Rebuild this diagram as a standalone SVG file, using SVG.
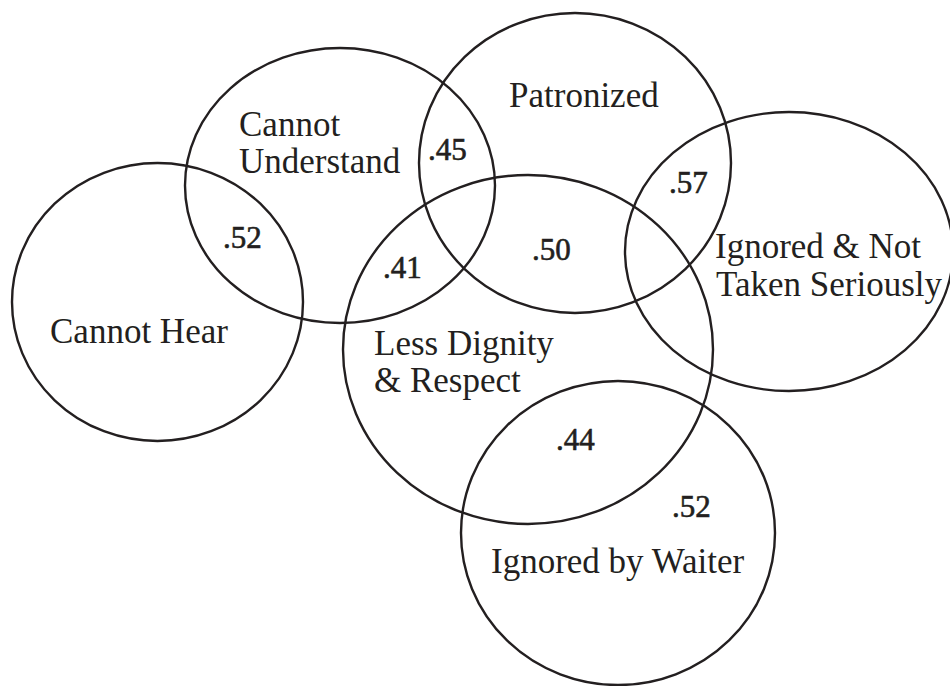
<svg xmlns="http://www.w3.org/2000/svg" width="950" height="686" viewBox="0 0 950 686">
<style>
.c{fill:none;stroke:#231f20;stroke-width:2.4}
.l{font-family:"Liberation Serif","Times New Roman",serif;font-size:35px;fill:#231f20}
.n{font-family:"Liberation Serif","Times New Roman",serif;font-size:31px;fill:#231f20;stroke:#231f20;stroke-width:0.6}
</style>
<rect width="950" height="686" fill="#fff"/>
<g id="cannot-hear"><ellipse class="c" cx="157.5" cy="302" rx="145.5" ry="139"/><text class="l" x="50" y="343">Cannot Hear</text></g>
<g id="cannot-understand"><ellipse class="c" cx="340" cy="185.5" rx="155" ry="137.5"/><text class="l" x="239" y="136">Cannot</text><text class="l" x="239" y="173">Understand</text></g>
<g id="patronized"><ellipse class="c" cx="575" cy="163" rx="156" ry="150"/><text class="l" x="509" y="107">Patronized</text></g>
<g id="ignored-not-taken-seriously"><ellipse class="c" cx="789" cy="251.5" rx="164" ry="139.5"/><text class="l" x="715" y="258">Ignored &amp; Not</text><text class="l" x="716" y="296">Taken Seriously</text></g>
<g id="less-dignity"><ellipse class="c" cx="528" cy="349.5" rx="185" ry="174.5"/><text class="l" x="374" y="355">Less Dignity</text><text class="l" x="374" y="392">&amp; Respect</text></g>
<g id="ignored-by-waiter"><ellipse class="c" cx="618" cy="533" rx="157" ry="152"/><text class="l" x="491" y="573">Ignored by Waiter</text></g>
<g id="connectors"></g>
<g id="values">
<text class="n" x="223" y="248">.52</text>
<text class="n" x="428" y="160">.45</text>
<text class="n" x="383" y="278">.41</text>
<text class="n" x="532" y="260">.50</text>
<text class="n" x="669" y="193">.57</text>
<text class="n" x="556" y="450">.44</text>
<text class="n" x="672" y="517">.52</text>
</g>
</svg>
